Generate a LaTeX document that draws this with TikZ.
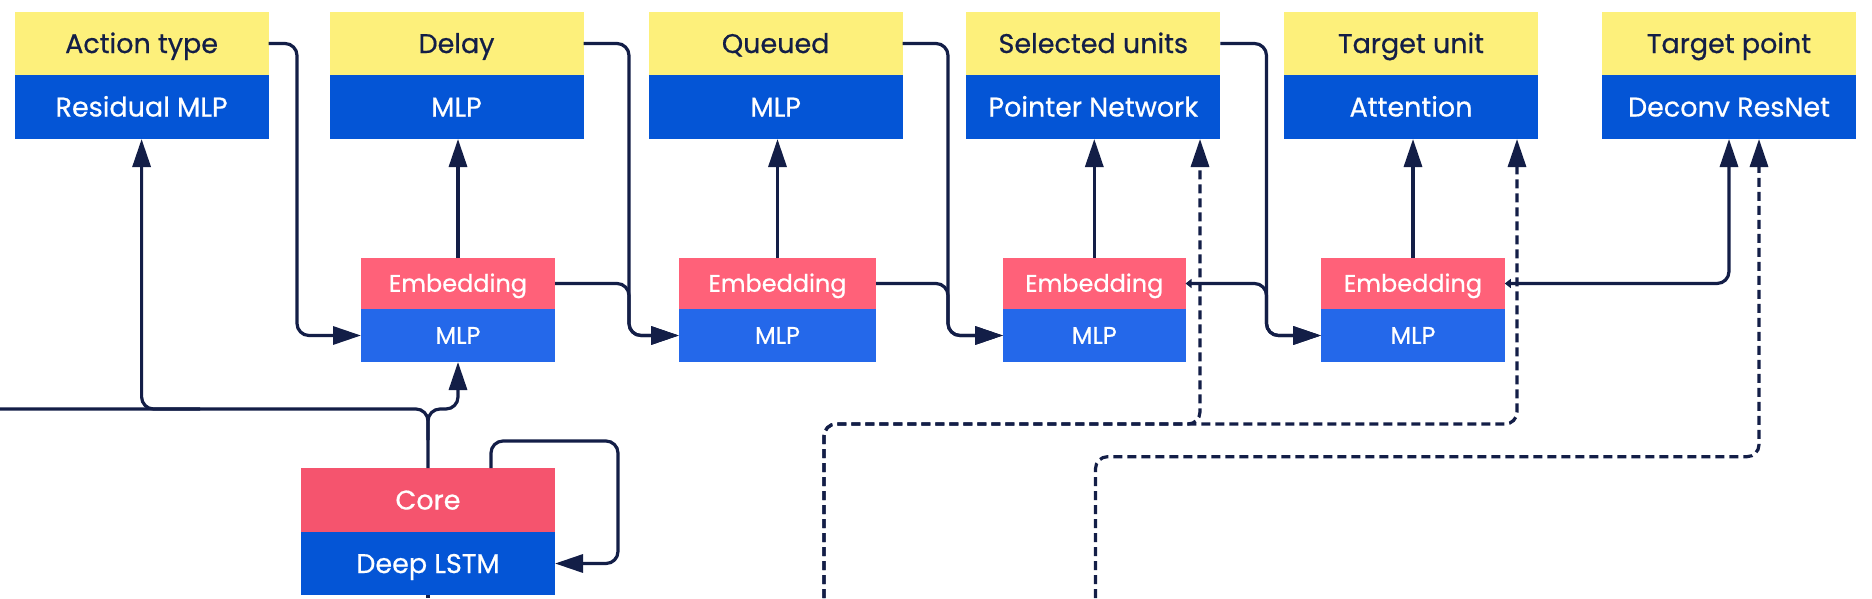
\documentclass[tikz,border=0pt]{standalone}
\usepackage{fontspec}
\setmainfont{Poppins}
\newfontfamily\medfont[FakeBold=0.6]{Poppins}
\usetikzlibrary{arrows.meta}
\definecolor{ylw}{HTML}{FDF07B}
\definecolor{dblue}{HTML}{0455D6}
\definecolor{lblue}{HTML}{2468EA}
\definecolor{epink}{HTML}{FF6179}
\definecolor{cpink}{HTML}{F5546E}
\definecolor{navy}{HTML}{131E47}
\begin{document}
\begin{tikzpicture}[x=1pt,y=-1pt,
  box/.style={inner sep=0pt, outer sep=0pt, draw=none},
  headtop/.style={box, fill=ylw, text=navy, minimum width=254pt, minimum height=63pt,
    font=\medfont\fontsize{27}{30}\selectfont, text height=19pt, text depth=0pt},
  headbot/.style={box, fill=dblue, text=white, minimum width=254pt, minimum height=64pt,
    font=\medfont\fontsize{27}{30}\selectfont, text height=19pt, text depth=0pt},
  embtop/.style={box, fill=epink, text=white, minimum height=51pt,
    font=\medfont\fontsize{24}{26}\selectfont, text height=16.5pt, text depth=0pt},
  embbot/.style={box, fill=lblue, text=white, minimum height=53pt,
    font=\medfont\fontsize{24}{26}\selectfont, text height=16.5pt, text depth=0pt},
  coretop/.style={box, fill=cpink, text=white, minimum width=254pt, minimum height=64pt,
    font=\medfont\fontsize{27}{30}\selectfont, text height=19pt, text depth=0pt},
  corebot/.style={box, fill=dblue, text=white, minimum width=254pt, minimum height=63pt,
    font=\medfont\fontsize{27}{30}\selectfont, text height=19pt, text depth=0pt},
  wire/.style={draw=navy, line width=3.2pt, rounded corners=12pt},
  conn/.style={wire, -{Triangle[length=28pt,width=18pt]}},
  conntwo/.style={wire, {Triangle[length=6pt,width=9pt]}-{Triangle[length=28pt,width=18pt]}},
  dashwire/.style={conn, dash pattern=on 9pt off 5pt}
]
\useasboundingbox[fill=white] (0,0) rectangle (1872,598);

% heads
\node[headtop] (h1t) at (141.6,43.5) {Action type};
\node[headbot] (h1b) at (141.6,107) {Residual MLP};
\node[headtop] (h2t) at (456.5,43.5) {Delay};
\node[headbot] (h2b) at (456.5,107) {MLP};
\node[headtop] (h3t) at (775.7,43.5) {Queued};
\node[headbot] (h3b) at (775.7,107) {MLP};
\node[headtop] (h4t) at (1093.3,43.5) {Selected units};
\node[headbot] (h4b) at (1093.3,107) {Pointer Network};
\node[headtop] (h5t) at (1411,43.5) {Target unit};
\node[headbot] (h5b) at (1411,107) {Attention};
\node[headtop] (h6t) at (1729,43.5) {Target point};
\node[headbot] (h6b) at (1729,107) {Deconv ResNet};

% embeddings
\node[embtop, minimum width=194pt] (e1t) at (458,283.5) {Embedding};
\node[embbot, minimum width=194pt] (e1b) at (458,335.5) {MLP};
\node[embtop, minimum width=197pt] (e2t) at (777.5,283.5) {Embedding};
\node[embbot, minimum width=197pt] (e2b) at (777.5,335.5) {MLP};
\node[embtop, minimum width=182.5pt] (e3t) at (1094.3,283.5) {Embedding};
\node[embbot, minimum width=182.5pt] (e3b) at (1094.3,335.5) {MLP};
\node[embtop, minimum width=183.6pt] (e4t) at (1413,283.5) {Embedding};
\node[embbot, minimum width=183.6pt] (e4b) at (1413,335.5) {MLP};

% core
\node[coretop] (ct) at (428,500) {Core};
\node[corebot] (cb) at (428,563.5) {Deep LSTM};

% helper coordinates
\coordinate (loopstart) at (491,468);
\coordinate (leftend) at (0,409);
\coordinate (bottomcore) at (428,598);
\coordinate (d1start) at (824,598);
\coordinate (d2start) at (1095.5,598);

% head outputs feeding next embedding MLPs
\draw[conn] (h1t.east) -- (297,43.5) -- (297,335.5) -- (e1b.west);
\draw[conn] (h2t.east) -- (629,43.5) -- (629,335.5) -- (e2b.west);
\draw[conn] (e1t.east) -- (629,283.5) -- (629,335.5) -- (e2b.west);
\draw[conn] (h3t.east) -- (948,43.5) -- (948,335.5) -- (e3b.west);
\draw[conn] (e2t.east) -- (948,283.5) -- (948,335.5) -- (e3b.west);
\draw[conn] (h4t.east) -- (1266.5,43.5) -- (1266.5,335.5) -- (e4b.west);
\draw[conntwo] (e3t.east) -- (1266.5,283.5) -- (1266.5,335.5) -- (e4b.west);
\draw[conntwo] (e4t.east) -- (1729,283.5) -- (h6b.south);

% embeddings up to heads
\draw[conn] (e1t.north) -- (e1t.north |- h2b.south);
\draw[conn] (e2t.north) -- (e2t.north |- h3b.south);
\draw[conn] (e3t.north) -- (e3t.north |- h4b.south);
\draw[conn] (e4t.north) -- (e4t.north |- h5b.south);

% core outputs
\draw[wire] (ct.north) -- (428,409) -- (leftend);
\draw[conn] (200,409) -- (141.6,409) -- (h1b.south);
\draw[conn] (428,440) -- (428,409) -- (458,409) -- (e1b.south);
\draw[conn] (loopstart) -- (491,441) -- (618,441) -- (618,563.5) -- (cb.east);
\draw[wire] (cb.south) -- (bottomcore);

% dashed inputs
\draw[dashwire] (d1start) -- (824,424) -- (1200,424) -- (1200,139);
\draw[dashwire] (d1start) -- (824,424) -- (1517,424) -- (1517,139);
\draw[dashwire] (d2start) -- (1095.5,456.7) -- (1759,456.7) -- (1759,139);
\end{tikzpicture}
\end{document}
